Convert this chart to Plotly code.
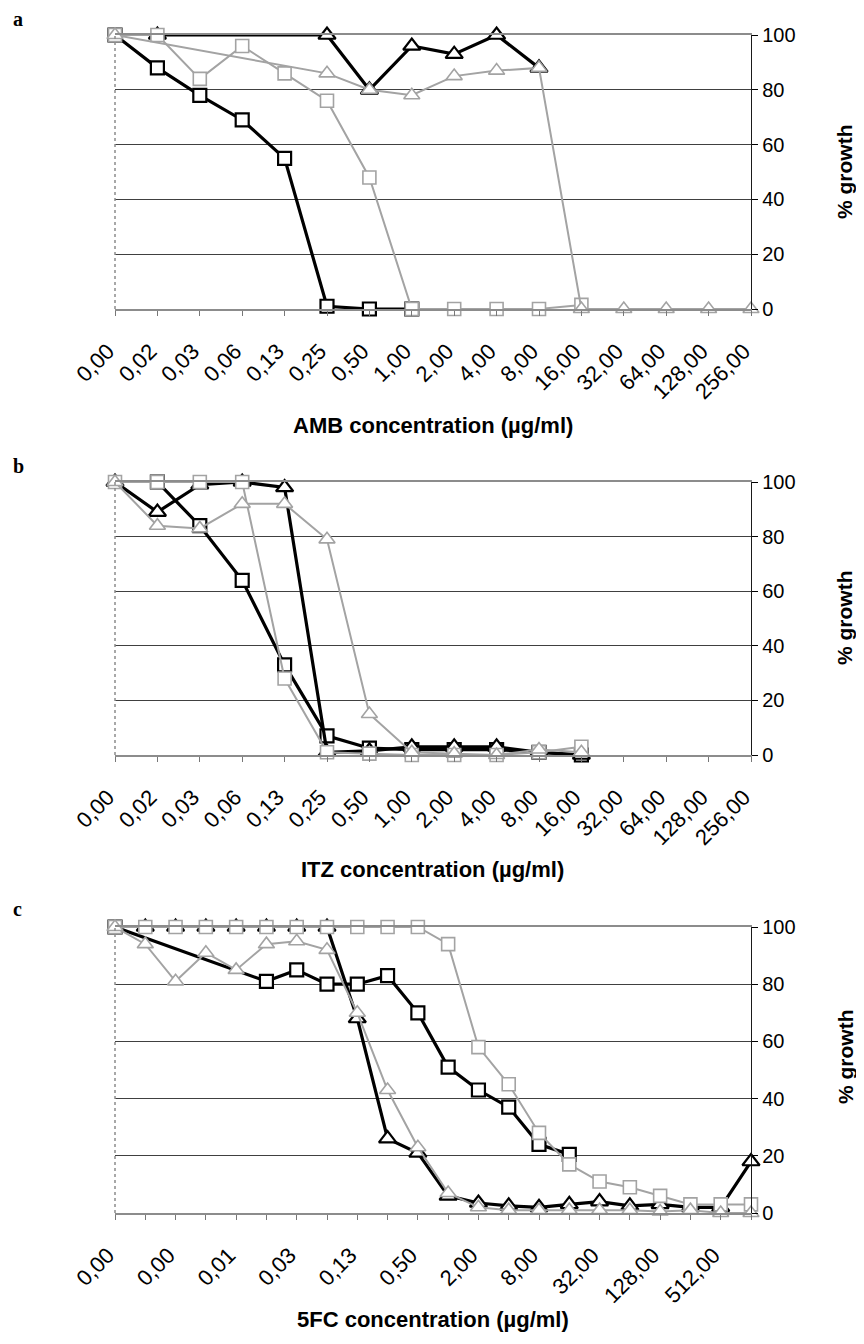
import plotly.graph_objects as go

# ---------------- data ----------------
ab_categories = ["0,00", "0,02", "0,03", "0,06", "0,13", "0,25", "0,50", "1,00",
                 "2,00", "4,00", "8,00", "16,00", "32,00", "64,00", "128,00", "256,00"]

c_categories = ["0,00", "0,00", "0,00", "0,00", "0,01", "0,02", "0,03", "0,06",
                "0,13", "0,25", "0,50", "1,00", "2,00", "4,00", "8,00", "16,00",
                "32,00", "64,00", "128,00", "256,00", "512,00", "1024,00"]

N = None
# panel a (AMB)
a_black_sq = [100, 88, 78, 69, 55, 1, 0, 0, N, N, N, N, N, N, N, N]
a_black_tri = [N, 100, N, N, N, 100, 80, 96, 93, 100, 88, N, N, N, N, N]
a_gray_sq = [100, 100, 84, 96, 86, 76, 48, 0, 0, 0, 0, 1.5, N, N, N, N]
a_gray_tri = [100, N, N, N, N, 86, 80, 78, 85, 87, 88, 0, 0, 0, 0, 0]

# panel b (ITZ)
b_black_sq = [N, 100, 84, 64, 33, 7, 2.5, 2, 2, 2, 1, 0, N, N, N, N]
b_black_tri = [100, 89, 99, 100, 98, 1, 1.5, 3, 3, 3, 1, 0, N, N, N, N]
b_gray_sq = [100, 100, 100, 100, 28, 1, 0.5, 0, 0, 0, 1, 3, N, N, N, N]
b_gray_tri = [100, 84, 83, 92, 92, 79, 15, 1, 0.5, 0, 2, 1, N, N, N, N]

# panel c (5FC)
c_black_sq = [100, N, N, N, N, 81, 85, 80, 80, 83, 70, 51, 43, 37, 24, 20.5,
              N, N, N, N, N, N]
c_black_tri = [N, 100, 100, 100, 100, 100, 100, 100, 68, 26, 21, 6, 3.5, 2.5, 2, 3,
               4, 2.5, 3, 2, 2, 18]
c_black_tri_line_start = 7
c_gray_sq = [100, 100, 100, 100, 100, 100, 100, 100, 100, 100, 100, 94, 58, 45, 28, 17,
             11, 9, 6, 3, 3, 3]
c_gray_tri = [100, 94, 81, 91, 85, 94, 95, 92, 70, 43, 23, 7, 2, 1, 1, 1,
              1, 1, 0.5, 1, 0, 0]

y_ticks = [0, 20, 40, 60, 80, 100]
x_titles = ["AMB concentration (µg/ml)", "ITZ concentration (µg/ml)", "5FC concentration (µg/ml)"]
panel_letters = ["a", "b", "c"]

# ---------------- layout geometry (pixels in the page) ----------------
OFF = 8                      # the page puts the figure 8 px from its top-left corner
W, H = 864 - 2 * OFF, 1344 - 2 * OFF   # keep the page free of scrollbars
PX_L, PX_R = 115 - OFF, 751 - OFF
panels_px = [(35, 309), (482, 755), (927, 1213)]   # top, bottom of each plot area
xtitle_y = [425, 869, 1319]
ytitle_y = [172, 618, 1057]
letter_y = [19, 466, 909]
ytitle_x = 845
letter_x = 11

BLACK = "#000000"
GRAY = "#a3a3a3"
FONT = "Liberation Sans, Arial, sans-serif"

fig = go.Figure()


def add_series(idx, xs, ys, color, symbol, lw, mlw, size, line=True, markers=True):
    xa = "x" if idx == 0 else f"x{idx+1}"
    ya = "y" if idx == 0 else f"y{idx+1}"
    mode = "+".join([m for m, on in (("lines", line), ("markers", markers)) if on])
    fig.add_trace(go.Scatter(
        x=xs, y=ys, xaxis=xa, yaxis=ya, mode=mode, connectgaps=True,
        line=dict(color=color, width=lw),
        marker=dict(symbol=symbol, size=size, color="white",
                    line=dict(color=color, width=mlw)),
        cliponaxis=False, showlegend=False, hoverinfo="skip"))


panels = [
    (ab_categories, a_black_sq, a_black_tri, a_gray_sq, a_gray_tri),
    (ab_categories, b_black_sq, b_black_tri, b_gray_sq, b_gray_tri),
    (c_categories, c_black_sq, c_black_tri, c_gray_sq, c_gray_tri),
]

for i, (cats, bsq, btri, gsq, gtri) in enumerate(panels):
    xs = list(range(len(cats)))
    add_series(i, xs, bsq, BLACK, "square", 3.2, 2.2, 13)
    if i == 2:
        ln = [v if k >= c_black_tri_line_start else None for k, v in enumerate(btri)]
        add_series(i, xs, ln, BLACK, "triangle-up", 3.2, 2.2, 15, markers=False)
        add_series(i, xs, btri, BLACK, "triangle-up", 3.2, 2.2, 15, line=False)
    else:
        add_series(i, xs, btri, BLACK, "triangle-up", 3.2, 2.2, 15)
    add_series(i, xs, gsq, GRAY, "square", 2, 1.6, 13)
    add_series(i, xs, gtri, GRAY, "triangle-up", 2, 1.6, 14)

    top, bot = panels_px[i]
    ydom = [1 - (bot - OFF) / H, 1 - (top - OFF) / H]
    xdom = [PX_L / W, PX_R / W]
    if i == 2:
        ticktext = [c if k % 2 == 0 else "" for k, c in enumerate(cats)]
    else:
        ticktext = cats
    sfx = "" if i == 0 else str(i + 1)
    fig.layout["xaxis" + sfx] = dict(
        domain=xdom, anchor="y" + sfx, range=[0, len(cats) - 1], automargin=False,
        tickmode="array", tickvals=xs, ticktext=ticktext, tickangle=-45,
        ticks="outside", ticklen=5, tickcolor="#777", tickwidth=1,
        ticklabelstandoff=14, ticklabelshift=-7,
        showline=True, linecolor="#8c8c8c", linewidth=1.5, mirror=True,
        showgrid=False, zeroline=False,
        tickfont=dict(family=FONT, size=22, color="black"))
    fig.layout["yaxis" + sfx] = dict(
        domain=ydom, anchor="x" + sfx, side="right", range=[0, 100], automargin=False,
        tickmode="array", tickvals=y_ticks,
        ticks="outside", ticklen=6, tickcolor="black", tickwidth=1,
        showline=True, linecolor="#1a1a1a", linewidth=1.3,
        showgrid=True, gridcolor="#404040", gridwidth=1, zeroline=False,
        tickfont=dict(family=FONT, size=20, color="black"))
    # left border of plot area
    fig.add_shape(type="line", xref=f"x{sfx} domain", yref=f"y{sfx} domain",
                  x0=0, x1=0, y0=0, y1=1, line=dict(color="#8c8c8c", width=1.5, dash="dot"))
    fig.add_annotation(text=f"<b>{x_titles[i]}</b>", xref="paper", yref="paper",
                       x=(PX_L + PX_R) / 2 / W, y=1 - (xtitle_y[i] - OFF) / H,
                       showarrow=False, xanchor="center", yanchor="middle",
                       font=dict(family=FONT, size=22, color="black"))
    fig.add_annotation(text="<b>% growth</b>", xref="paper", yref="paper",
                       x=(ytitle_x - OFF) / W, y=1 - (ytitle_y[i] - OFF) / H, textangle=-90,
                       showarrow=False, xanchor="center", yanchor="middle",
                       font=dict(family=FONT, size=21, color="black"))
    fig.add_annotation(text=f"<b>{panel_letters[i]}</b>", xref="paper", yref="paper",
                       x=(letter_x - OFF) / W, y=1 - (letter_y[i] - OFF) / H, showarrow=False,
                       xanchor="left", yanchor="middle",
                       font=dict(family="Liberation Serif, Times New Roman, serif", size=20,
                                 color="black"))

fig.update_layout(width=W, height=H, margin=dict(l=0, r=0, t=0, b=0, autoexpand=False),
                  paper_bgcolor="white", plot_bgcolor="white")

fig.write_html("out.html")
